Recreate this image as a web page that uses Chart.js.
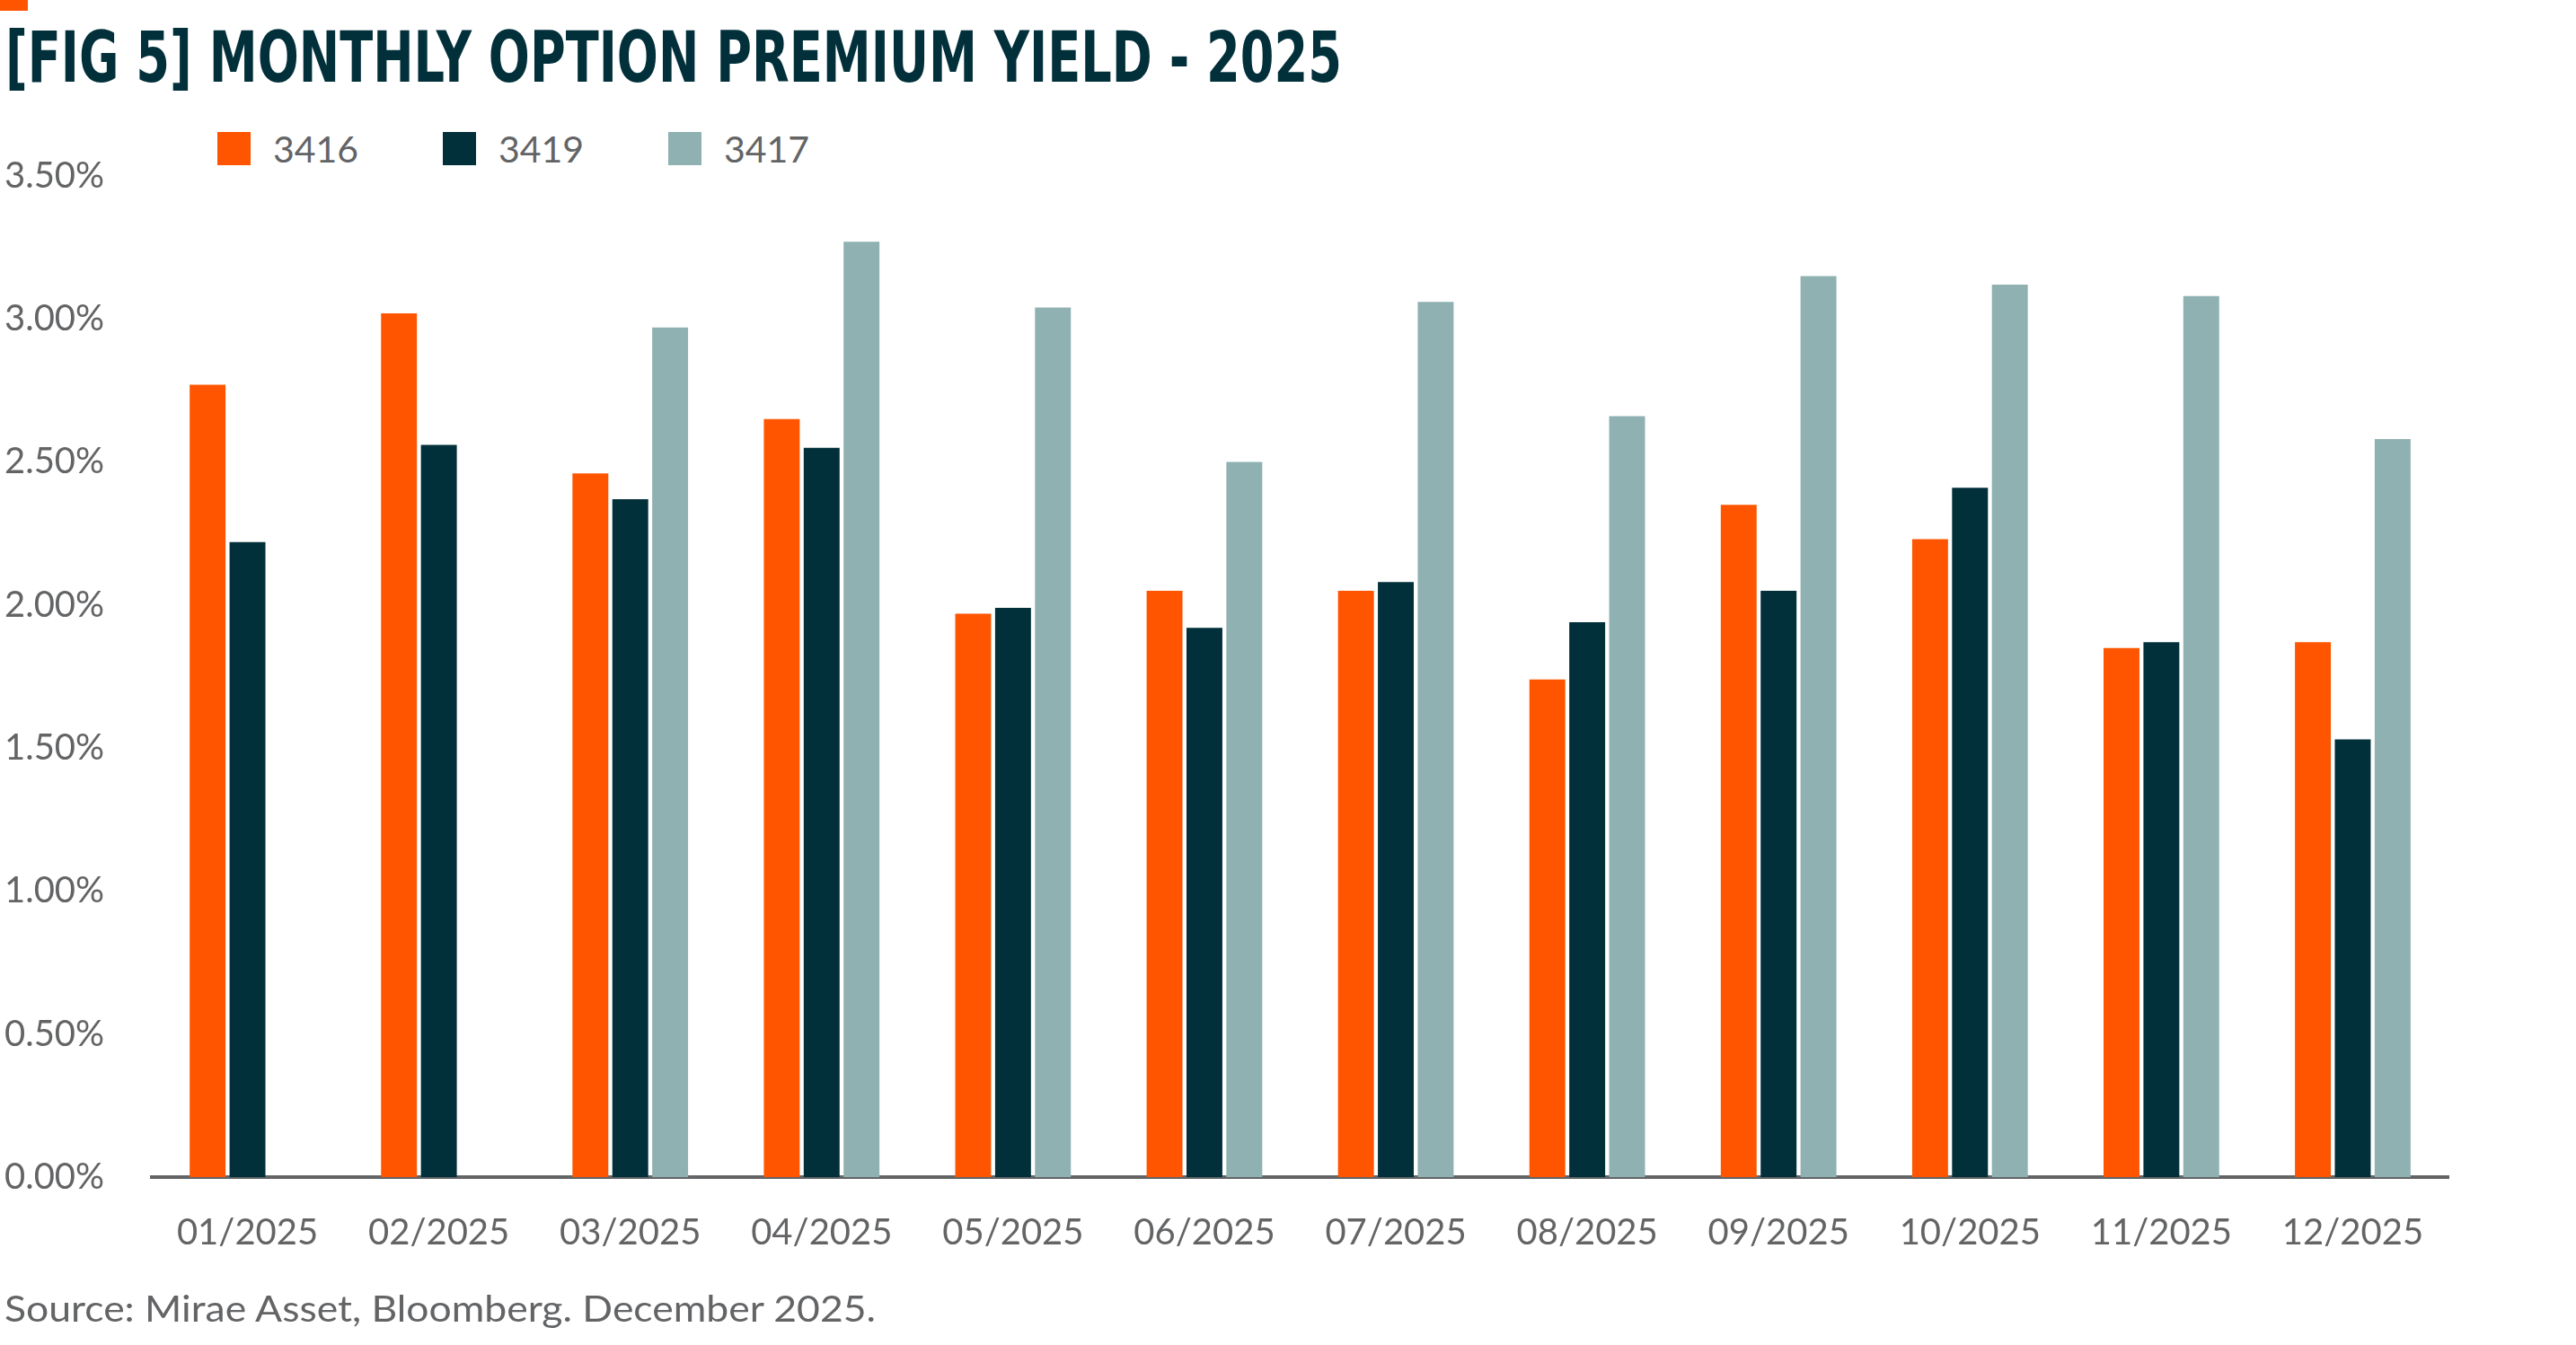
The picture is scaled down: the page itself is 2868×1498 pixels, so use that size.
<!DOCTYPE html>
<html>
<head>
<meta charset="utf-8">
<script src="https://cdn.jsdelivr.net/npm/chart.js@4.4.1/dist/chart.umd.min.js"></script>
<style>
  html, body { margin: 0; padding: 0; background: #fff; width: 2868px; height: 1498px; overflow: hidden; }
  body { position: relative; font-family: Lato, 'Open Sans', sans-serif; }
  .accent { position: absolute; left: 0; top: 0; width: 31px; height: 12px; background: #ff5500; }
  .title { position: absolute; left: 6px; top: 25px; font-family: 'Liberation Sans Narrow', 'DejaVu Sans Condensed', Roboto, sans-serif;
           font-weight: 700; font-size: 78px; line-height: 1; color: #02303a; white-space: nowrap; transform-origin: left top; }
  #legend { position: absolute; left: 242px; top: 147px; display: flex; }
  .item { width: 251px; display: flex; align-items: center; height: 37px; }
  .box { width: 37px; height: 37px; margin-right: 25px; }
  .lbl { font-size: 41px; line-height: 1; color: #636466; font-weight: 400; }
  .source { position: absolute; left: 5px; top: 1437px; font-size: 40px; line-height: 1; color: #636466; font-weight: 400;
            white-space: nowrap; transform-origin: left top; }
  canvas { position: absolute; left: 0; top: 0; }
</style>
</head>
<body>
<div class="accent"></div>
<div class="title" id="title">[FIG 5] MONTHLY OPTION PREMIUM YIELD - 2025</div>
<div id="legend"></div>
<canvas id="chart" width="2868" height="1498" style="width:2868px;height:1498px"></canvas>
<div class="source" id="source">Source: Mirae Asset, Bloomberg. December 2025.</div>

<script>
// Chart data (monthly option premium yield, %)
const months = ['01/2025', '02/2025', '03/2025', '04/2025', '05/2025', '06/2025',
                '07/2025', '08/2025', '09/2025', '10/2025', '11/2025', '12/2025'];
const seriesNames = ['3416', '3419', '3417'];
const yield3416 = [2.77, 3.02, 2.46, 2.65, 1.97, 2.05, 2.05, 1.74, 2.35, 2.23, 1.85, 1.87];
const yield3419 = [2.22, 2.56, 2.37, 2.55, 1.99, 1.92, 2.08, 1.94, 2.05, 2.41, 1.87, 1.53];
const yield3417 = [null, null, 2.97, 3.27, 3.04, 2.50, 3.06, 2.66, 3.15, 3.12, 3.08, 2.58];
const yMax = 3.5;
const yStep = 0.5;

const colors = ['#ff5500', '#02303a', '#8fb1b1'];
const textGray = '#636466';
const tickFont = { family: 'Lato, "Open Sans", sans-serif', size: 40, weight: '400' };

// Stretch a text block to the width it takes in the figure
function fitWidth(id, target) {
  const el = document.getElementById(id);
  const w = el.getBoundingClientRect().width;
  if (w > 0) el.style.transform = 'scaleX(' + (target / w) + ')';
}

function drawChart() {
  const allSeries = [yield3416, yield3419, yield3417];

  const chart = new Chart(document.getElementById('chart'), {
    type: 'bar',
    data: {
      labels: months,
      datasets: allSeries.map((data, i) => ({
        label: seriesNames[i],
        data: data,
        backgroundColor: colors[i],
        borderWidth: 0,
        categoryPercentage: 0.625,
        barPercentage: 0.9
      }))
    },
    options: {
      responsive: false,
      animation: false,
      devicePixelRatio: 1,
      layout: {
        padding: { left: 5, right: 142, top: 196, bottom: 77 }
      },
      plugins: {
        legend: { display: false },
        tooltip: { enabled: false }
      },
      scales: {
        x: {
          grid: { display: false },
          border: { display: true, color: textGray, width: 4 },
          ticks: {
            color: textGray,
            font: tickFont,
            padding: 30,
            maxRotation: 0,
            autoSkip: false
          },
          afterFit: function(scale) { scale.height = 110; }
        },
        y: {
          min: 0,
          max: yMax,
          grid: { display: false },
          border: { display: false },
          ticks: {
            stepSize: yStep,
            color: textGray,
            font: tickFont,
            crossAlign: 'far',
            padding: 0,
            callback: function(v) { return v.toFixed(2) + '%'; }
          },
          afterFit: function(scale) { scale.width = 164; }
        }
      }
    }
  });

  // Legend built from the chart's datasets
  const legend = document.getElementById('legend');
  chart.data.datasets.forEach(function(ds) {
    const item = document.createElement('div');
    item.className = 'item';
    const box = document.createElement('div');
    box.className = 'box';
    box.style.background = ds.backgroundColor;
    const lbl = document.createElement('span');
    lbl.className = 'lbl';
    lbl.textContent = ds.label;
    item.appendChild(box);
    item.appendChild(lbl);
    legend.appendChild(item);
  });

  fitWidth('title', 1488);
  fitWidth('source', 970);
}

document.addEventListener('DOMContentLoaded', function() {
  if (document.fonts && document.fonts.ready) {
    document.fonts.ready.then(drawChart);
  } else {
    drawChart();
  }
});
</script>
</body>
</html>
